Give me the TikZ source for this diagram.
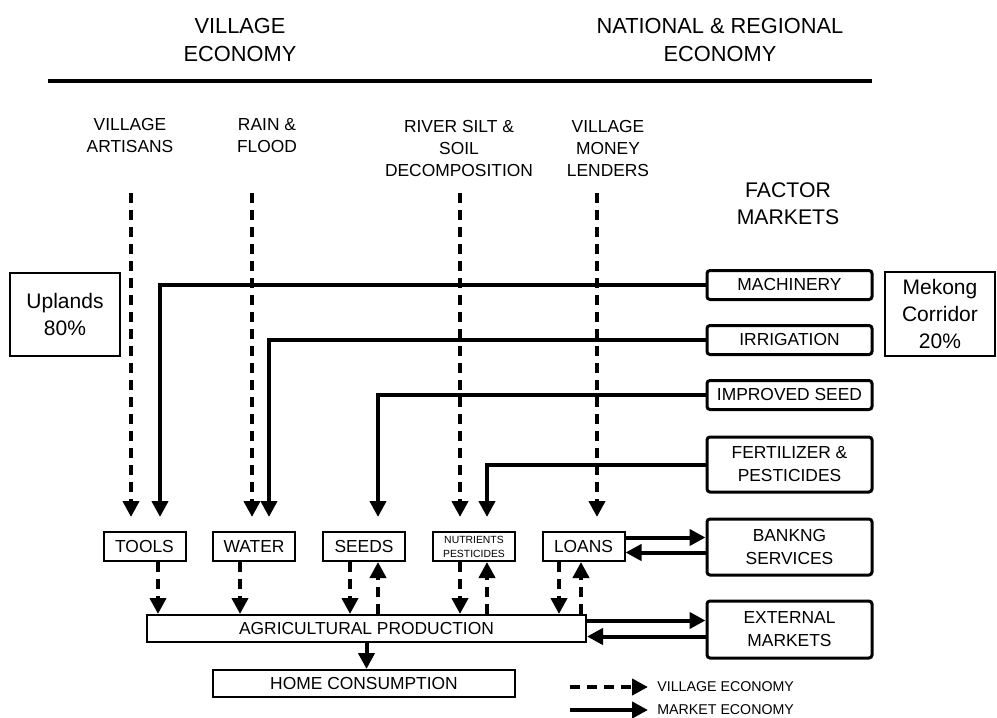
\documentclass[tikz,border=0pt]{standalone}
\usepackage{fontspec}
\setmainfont{Liberation Sans}
\usetikzlibrary{arrows.meta,calc}
\tikzset{
    village/.style={line width=2pt, dash pattern=on 5pt off 3.5pt, -{Triangle[length=8pt,width=8pt]}},
    market/.style={line width=2pt, -{Triangle[length=8pt,width=8pt]}},
    factorbox/.style={draw, line width=1.5pt, rounded corners=1.5pt, minimum width=82.5pt,
        align=center, font=\fontsize{8.7}{11.5}\selectfont},
    rowbox/.style={draw, line width=1pt, minimum width=41pt, minimum height=14.5pt,
        font=\fontsize{8.7}{10}\selectfont},
    regionbox/.style={draw, line width=0.75pt, minimum width=55pt, minimum height=41.5pt,
        align=center, font=\fontsize{10.5}{13.7}\selectfont},
    source/.style={align=center, font=\fontsize{8.7}{11}\selectfont},
    header/.style={align=center, font=\fontsize{10.9}{14}\selectfont},
    legend/.style={anchor=west, inner sep=0pt, font=\fontsize{7.1}{8}\selectfont}
}

\begin{document}
\begin{tikzpicture}[x=0.5pt, y=-0.5pt]
    \useasboundingbox (0,0) rectangle (997,718);

    % headings
    \node[header] (HVIL) at (240,40) {VILLAGE\\ECONOMY};
    \node[header] (HNAT) at (720,40) {NATIONAL \& REGIONAL\\ECONOMY};
    \draw[line width=2pt] (48,81) -- (872,81);

    % village sources
    \node[source] (ART) at (130,136) {VILLAGE\\ARTISANS};
    \node[source] (RAIN) at (267,136) {RAIN \&\\FLOOD};
    \node[source] (SILT) at (459,149) {RIVER SILT \&\\SOIL\\DECOMPOSITION};
    \node[source] (LEND) at (608,149) {VILLAGE\\MONEY\\LENDERS};
    \node[source, font=\fontsize{10.6}{13.5}\selectfont] (FACT) at (788,204) {FACTOR\\MARKETS};

    \node[regionbox] (UPL) at (65,314.5) {Uplands\\80\%};
    \node[regionbox] (MEK) at (940,314) {Mekong\\Corridor\\20\%};

    % factor markets
    \node[factorbox, minimum height=14.5pt] (MACH) at (789.5,285) {MACHINERY};
    \node[factorbox, minimum height=14.5pt] (IRR) at (789.5,340) {IRRIGATION};
    \node[factorbox, minimum height=14.5pt] (IMPS) at (789.5,395) {IMPROVED SEED};
    \node[factorbox, minimum height=27.5pt] (FERT) at (789.5,464.5) {FERTILIZER \&\\PESTICIDES};
    \node[factorbox, minimum height=28pt] (BANK) at (789.5,547) {BANKNG\\SERVICES};
    \node[factorbox, minimum height=28.5pt] (EXT) at (789.5,629.5) {EXTERNAL\\MARKETS};

    % inputs
    \node[rowbox] (TOOLS) at (144.5,546.5) {TOOLS};
    \node[rowbox] (WATER) at (254,546.5) {WATER};
    \node[rowbox] (SEEDS) at (364,546.5) {SEEDS};
    \node[rowbox, align=center, inner sep=1pt, font=\fontsize{5.2}{7}\selectfont] (NUTR) at (474,546.5) {NUTRIENTS\\PESTICIDES};
    \node[rowbox] (LOANS) at (583.5,546.5) {LOANS};

    \node[rowbox, minimum width=219.5pt, minimum height=13.5pt] (AGRI) at (366.5,628.5) {AGRICULTURAL PRODUCTION};
    \node[rowbox, minimum width=151pt, minimum height=13.5pt] (HOME) at (364,683.5) {HOME CONSUMPTION};

    % village flows from the sources
    \coordinate (DTOP) at (0,193);
    \draw[village, shorten >=7pt] ([xshift=-6.75pt]TOOLS.north |- DTOP) -- ([xshift=-6.75pt]TOOLS.north);
    \draw[village, shorten >=7pt] ([xshift=-1pt]WATER.north |- DTOP) -- ([xshift=-1pt]WATER.north);
    \draw[village, shorten >=7pt] ([xshift=-7pt]NUTR.north |- DTOP) -- ([xshift=-7pt]NUTR.north);
    \draw[village, shorten >=7pt] ([xshift=6.75pt]LOANS.north |- DTOP) -- ([xshift=6.75pt]LOANS.north);

    % market flows from the factor markets
    \draw[market, shorten >=7pt] (MACH.west) -| ([xshift=7.75pt]TOOLS.north);
    \draw[market, shorten >=7pt] (IRR.west) -| ([xshift=7.5pt]WATER.north);
    \draw[market, shorten >=7pt] (IMPS.west) -| ([xshift=7pt]SEEDS.north);
    \draw[market, shorten >=7pt] (FERT.west) -| ([xshift=6.5pt]NUTR.north);

    \draw[market] ([yshift=4.5pt]LOANS.east) -- ([yshift=4.5pt]LOANS.east -| BANK.west);
    \draw[market] ([yshift=-3pt]LOANS.east -| BANK.west) -- ([yshift=-3pt]LOANS.east);
    \draw[market] ([yshift=4pt]AGRI.east) -- ([yshift=4pt]AGRI.east -| EXT.west);
    \draw[market] ([yshift=-4pt]AGRI.east -| EXT.west) -- ([yshift=-4pt]AGRI.east);

    % into and out of production
    \draw[village] ([xshift=6.75pt]TOOLS.south) -- ([xshift=6.75pt]TOOLS.south |- AGRI.north);
    \draw[village] ([xshift=-7pt]WATER.south) -- ([xshift=-7pt]WATER.south |- AGRI.north);
    \draw[village] ([xshift=-7pt]SEEDS.south) -- ([xshift=-7pt]SEEDS.south |- AGRI.north);
    \draw[village] ([xshift=7pt]SEEDS.south |- AGRI.north) -- ([xshift=7pt]SEEDS.south);
    \draw[village] ([xshift=-7pt]NUTR.south) -- ([xshift=-7pt]NUTR.south |- AGRI.north);
    \draw[village] ([xshift=6.5pt]NUTR.south |- AGRI.north) -- ([xshift=6.5pt]NUTR.south);
    \draw[village] ([xshift=-12.25pt]LOANS.south) -- ([xshift=-12.25pt]LOANS.south |- AGRI.north);
    \draw[village] ([xshift=-1.25pt]LOANS.south |- AGRI.north) -- ([xshift=-1.25pt]LOANS.south);
    \draw[village] (AGRI.south) -- (AGRI.south |- HOME.north);

    % legend
    \node[legend] (LEGV) at (657,687) {VILLAGE ECONOMY};
    \node[legend] (LEGM) at (657,710) {MARKET ECONOMY};
    \draw[village] ([xshift=-43.5pt]LEGV.west) -- ([xshift=-4.5pt]LEGV.west);
    \draw[market] ([xshift=-43.5pt]LEGM.west) -- ([xshift=-4.5pt]LEGM.west);
\end{tikzpicture}
\end{document}
